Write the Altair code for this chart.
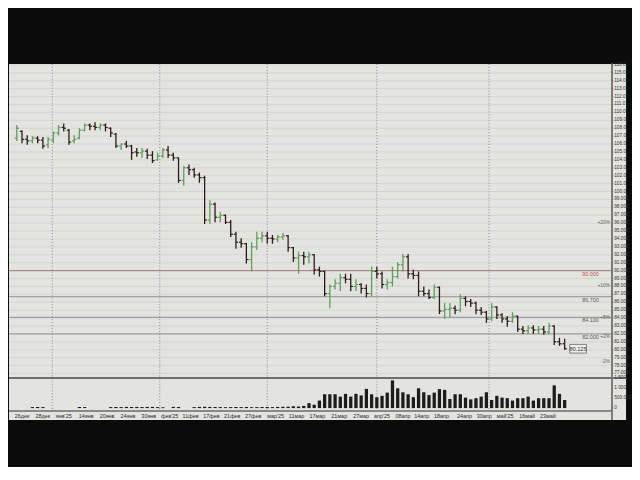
import altair as alt
import pandas as pd

# ---------------- data ----------------
opens = [
    106.75, 107.6, 106.6, 106.4, 106.75, 106.5, 105.9, 106.5, 107.4, 108.1,
    107.75, 106.4, 106.75, 107.75, 108.4, 108.25, 108.1, 108.4, 108.0, 107.25,
    105.75, 106.0, 105.75, 105.0, 104.9, 105.1, 104.6, 104.0, 104.5, 105.25,
    104.6, 104.25, 101.4, 103.0, 102.75, 102.1, 101.75, 96.4, 98.4, 96.75,
    97.0, 96.1, 94.6, 93.6, 93.4, 91.4, 93.0, 94.1, 94.4, 94.1,
    94.0, 94.25, 94.4, 92.9, 91.6, 91.9, 91.75, 92.0, 90.1, 89.9,
    87.1, 88.0, 88.4, 89.1, 88.9, 88.0, 88.25, 87.75, 87.1, 89.9,
    89.6, 88.25, 88.5, 89.25, 90.75, 91.75, 89.6, 89.4, 87.4, 87.1,
    86.6, 87.9, 84.9, 85.1, 85.25, 85.0, 86.5, 86.1, 85.9, 85.0,
    84.75, 83.9, 85.4, 84.4, 83.9, 83.6, 84.25, 82.6, 82.4, 82.75,
    82.5, 82.6, 82.25, 83.0, 81.0, 80.75,
]
highs = [
    108.4, 107.75, 107.1, 107.0, 107.0, 106.9, 106.9, 107.6, 108.4, 108.6,
    107.9, 107.1, 108.0, 108.6, 108.6, 108.75, 108.6, 108.6, 108.1, 107.4,
    106.1, 106.4, 105.9, 105.5, 105.5, 105.4, 105.1, 104.9, 105.5, 105.75,
    104.9, 104.3, 103.25, 103.4, 103.0, 102.4, 102.0, 98.9, 98.6, 97.4,
    97.1, 96.4, 94.9, 94.1, 93.5, 93.6, 94.9, 94.9, 94.9, 94.5,
    94.5, 94.75, 94.5, 93.0, 92.4, 92.4, 92.4, 92.1, 90.5, 90.0,
    88.25, 88.9, 89.6, 89.6, 89.6, 88.9, 88.4, 88.25, 90.5, 90.5,
    89.9, 88.9, 90.5, 91.1, 92.1, 92.1, 90.1, 89.9, 88.0, 87.6,
    88.25, 88.0, 85.9, 85.9, 85.6, 87.0, 86.75, 86.4, 86.1, 85.4,
    84.9, 85.9, 85.5, 84.6, 84.25, 84.75, 84.3, 83.0, 83.1, 83.1,
    83.0, 83.0, 83.4, 83.1, 81.5, 81.4,
]
lows = [
    106.4, 106.1, 105.9, 106.1, 106.1, 105.4, 105.5, 106.1, 107.1, 107.6,
    105.9, 106.1, 106.6, 107.6, 107.75, 107.75, 107.75, 107.6, 106.9, 105.5,
    105.25, 105.5, 104.0, 104.4, 104.25, 104.1, 103.6, 103.9, 104.25, 104.25,
    103.9, 101.1, 100.75, 102.1, 101.75, 101.1, 95.9, 95.9, 96.1, 96.1,
    95.9, 94.25, 92.75, 92.9, 90.9, 89.9, 92.6, 93.6, 93.4, 93.4,
    93.6, 93.9, 92.4, 91.1, 89.6, 90.75, 90.9, 89.5, 89.25, 86.75,
    85.25, 87.6, 87.4, 88.4, 87.4, 87.4, 87.1, 86.6, 86.75, 89.0,
    87.75, 87.6, 88.0, 89.0, 89.9, 89.0, 88.9, 86.75, 86.75, 86.4,
    86.4, 84.5, 83.9, 84.1, 84.5, 84.75, 85.5, 85.4, 84.5, 84.4,
    83.4, 83.6, 83.9, 83.4, 82.9, 83.4, 82.25, 82.0, 82.0, 82.0,
    82.0, 81.9, 82.0, 80.6, 80.5, 80.0,
]
closes = [
    108.0, 106.6, 106.4, 106.75, 106.5, 105.75, 106.6, 107.4, 108.1, 108.0,
    106.25, 106.6, 107.75, 108.4, 108.25, 108.1, 108.4, 108.1, 107.4, 105.75,
    106.0, 105.75, 104.9, 104.9, 105.1, 104.6, 103.9, 104.5, 105.25, 104.6,
    104.25, 101.4, 103.0, 102.75, 102.1, 101.75, 96.4, 98.4, 96.75, 97.0,
    96.1, 94.6, 93.6, 93.4, 91.4, 93.0, 94.1, 94.4, 94.1, 94.0,
    94.25, 94.4, 92.9, 91.6, 91.9, 91.75, 92.0, 90.1, 89.9, 87.1,
    88.0, 88.4, 89.1, 88.9, 88.0, 88.25, 87.75, 87.1, 89.9, 89.6,
    88.25, 88.5, 89.25, 90.75, 91.75, 89.6, 89.4, 87.4, 87.1, 86.6,
    87.9, 84.9, 85.1, 85.25, 85.0, 86.5, 86.1, 85.9, 85.0, 84.75,
    83.9, 85.4, 84.4, 83.9, 83.6, 84.25, 82.6, 82.4, 82.75, 82.5,
    82.6, 82.25, 83.0, 81.0, 80.75, 80.125,
]
volumes = [
    0, 0, 0, 50, 55, 50, 0, 0, 0, 0,
    0, 0, 55, 50, 0, 0, 0, 0, 50, 55,
    50, 60, 55, 60, 55, 60, 60, 50, 40, 0,
    60, 55, 0, 0, 50, 60, 65, 60, 55, 50,
    45, 50, 55, 50, 55, 45, 50, 55, 55, 50,
    60, 65, 70, 90, 80, 110, 250, 170, 380, 700,
    700, 700, 580, 720, 580, 720, 640, 970, 700, 550,
    620, 780, 1400, 1000, 800, 700, 550, 1000, 800, 660,
    780, 960, 920, 460, 700, 700, 530, 440, 500, 580,
    800, 410, 620, 530, 500, 380, 500, 500, 580, 380,
    500, 500, 500, 1150, 720, 410,
]

date_labels = ["26дек", "28дек", "янв'25", "14янв", "20янв", "24янв", "30янв",
               "фев'25", "11фев", "17фев", "21фев", "27фев", "мар'25", "11мар",
               "17мар", "21мар", "27мар", "апр'25", "08апр", "14апр", "18апр",
               "24апр", "30апр", "май'25", "16май", "23май"]
date_label_idx = [1.0, 5.0, 9.0, 13.3, 17.3, 21.3, 25.3, 29.3, 33.3, 37.3, 41.3,
                  45.3, 49.6, 53.6, 57.6, 61.8, 66.0, 70.0, 74.0, 77.6, 81.4,
                  85.8, 89.6, 93.6, 97.8, 101.8]
month_start_idx = [6.8, 27.4, 48, 69, 90.5]

level_prices = [90.0, 86.7, 84.1, 82.0]
level_text = ["90.000", "86.700", "84.100", "82.000"]

pct_labels = ["+20%", "+10%", "+5%", "+2%", "-2%"]
pct_prices = [96.15, 88.14, 84.13, 81.73, 78.52]

price_ticks = [77, 78, 79, 80, 81, 82, 83, 84, 85, 86, 87, 88, 89, 90, 91, 92, 93,
               94, 95, 96, 97, 98, 99, 100, 101, 102, 103, 104, 105, 106, 107, 108,
               109, 110, 111, 112, 113, 114, 115, 116]
vol_ticks = [0, 500, 1000, 1500]
vol_tick_text = ["0", "500.000", "1 000", "1 500"]
last_price = 80.125

# ---------------- tables ----------------
n = len(closes)
bars = pd.DataFrame({"i": list(range(n)), "o": opens, "h": highs, "l": lows,
                     "c": closes, "v": volumes})
red_level = pd.DataFrame({"p": level_prices[:1], "t": level_text[:1]})
gray_levels = pd.DataFrame({"p": level_prices[1:], "t": level_text[1:]})
months = pd.DataFrame({"m": month_start_idx})
grid = pd.DataFrame({"p": price_ticks})
pct = pd.DataFrame({"p": pct_prices, "t": pct_labels})
vticks = pd.DataFrame({"v": vol_ticks, "t": vol_tick_text})
last = pd.DataFrame({"p": [last_price], "t": ["80.125"]})
dates = pd.DataFrame({"i": date_label_idx, "t": date_labels})

W, H = 624, 360
AXIS_X = 610
FONT = "Liberation Sans"

xs = alt.Scale(domain=[-0.546, 115.82], nice=False, zero=False)
ps = alt.Scale(domain=[76.375, 116.125], range=[318, 0], nice=False, zero=False)
vs = alt.Scale(domain=[0, 1500], range=[348, 318], nice=False)

UP, DOWN = "#5f9f5c", "#2c1a1a"
up_cond = alt.condition("datum.c >= datum.o", alt.value(UP), alt.value(DOWN))

grid_l = alt.Chart(grid).mark_rule(color="#d0d0cb", strokeWidth=0.7).encode(
    y=alt.Y("p:Q", scale=ps, axis=None), x=alt.value(0), x2=alt.value(AXIS_X))
tick_l = alt.Chart(grid).mark_rule(color="#7a7a78", strokeWidth=0.7).encode(
    y=alt.Y("p:Q", scale=ps, axis=None), x=alt.value(AXIS_X), x2=alt.value(AXIS_X + 1.5))
ptick_txt = alt.Chart(grid).transform_calculate(
    t="datum.p >= 100 ? format(datum.p, '.1f') : format(datum.p, '.3f')").mark_text(
    fontSize=4.8, font=FONT, align="left", baseline="middle", color="#333333").encode(
    y=alt.Y("p:Q", scale=ps, axis=None), x=alt.value(AXIS_X + 2), text="t:N")

red_l = alt.Chart(red_level).mark_rule(strokeWidth=1, color="#a27a74").encode(
    y=alt.Y("p:Q", scale=ps, axis=None), x=alt.value(0), x2=alt.value(AXIS_X))
gray_l = alt.Chart(gray_levels).mark_rule(strokeWidth=1, color="#8e8e8b").encode(
    y=alt.Y("p:Q", scale=ps, axis=None), x=alt.value(0), x2=alt.value(AXIS_X))

month_l = alt.Chart(months).mark_rule(color="#8c8c8a", strokeDash=[1, 2], strokeWidth=1).encode(
    x=alt.X("m:Q", scale=xs, axis=None), y=alt.value(0), y2=alt.value(351))

hl = alt.Chart(bars).mark_rule(strokeWidth=1.3).encode(
    x=alt.X("i:Q", scale=xs, axis=None),
    y=alt.Y("l:Q", scale=ps, axis=None), y2="h:Q", color=up_cond)

op = alt.Chart(bars).transform_calculate(xo="datum.i - 0.42").mark_rule(strokeWidth=1.2).encode(
    x=alt.X("xo:Q", scale=xs, axis=None), x2="i:Q",
    y=alt.Y("o:Q", scale=ps, axis=None), color=up_cond)

cl = alt.Chart(bars).transform_calculate(xc="datum.i + 0.42").mark_rule(strokeWidth=1.2).encode(
    x=alt.X("i:Q", scale=xs, axis=None), x2="xc:Q",
    y=alt.Y("c:Q", scale=ps, axis=None), color=up_cond)

red_txt = alt.Chart(red_level).mark_text(fontSize=5.5, font=FONT, dy=3, baseline="middle",
                                         color="#c0504d").encode(
    y=alt.Y("p:Q", scale=ps, axis=None), x=alt.value(588), text="t:N")
gray_txt = alt.Chart(gray_levels).mark_text(fontSize=5.5, font=FONT, dy=3, baseline="middle",
                                            color="#5a5a5a").encode(
    y=alt.Y("p:Q", scale=ps, axis=None), x=alt.value(588), text="t:N")

pct_txt = alt.Chart(pct).mark_text(fontSize=5, font=FONT, align="right", baseline="middle",
                                   color="#666666").encode(
    y=alt.Y("p:Q", scale=ps, axis=None), x=alt.value(608), text="t:N")

box = alt.Chart(last).transform_calculate(
    p1="datum.p + 0.55", p2="datum.p - 0.55").mark_rect(
    fill="#ededeb", stroke="#555555", strokeWidth=0.7).encode(
    x=alt.value(567), x2=alt.value(584),
    y=alt.Y("p1:Q", scale=ps, axis=None), y2="p2:Q")
box_txt = alt.Chart(last).mark_text(fontSize=5.5, font=FONT, color="#333333",
                                    baseline="middle").encode(
    x=alt.value(575.5), y=alt.Y("p:Q", scale=ps, axis=None), text="t:N")

sep = alt.Chart(grid).mark_rule(color="#6e6e6c", strokeWidth=1).encode(
    y=alt.value(318), x=alt.value(0), x2=alt.value(W))
bottom_line = alt.Chart(grid).mark_rule(color="#8a8a88", strokeWidth=1).encode(
    y=alt.value(351), x=alt.value(0), x2=alt.value(AXIS_X))
vline = alt.Chart(grid).mark_rule(color="#7a7a78", strokeWidth=1).encode(
    x=alt.value(AXIS_X), y=alt.value(0), y2=alt.value(H))

date_txt = alt.Chart(dates).mark_text(fontSize=5.5, font=FONT, color="#2a2a2a",
                                      baseline="middle").encode(
    x=alt.X("i:Q", scale=xs, axis=None), y=alt.value(356), text="t:N")

price_layer = alt.layer(grid_l, red_l, gray_l, month_l, sep, bottom_line, vline, tick_l,
                        hl, op, cl, red_txt, gray_txt, pct_txt, box, box_txt,
                        ptick_txt, date_txt)

vol_bars = alt.Chart(bars).mark_bar(width=3.3, color="#1c1c1c").encode(
    x=alt.X("i:Q", scale=xs, axis=None),
    y=alt.Y("v:Q", scale=vs, axis=None))
vol_txt = alt.Chart(vticks).mark_text(fontSize=4.8, font=FONT, align="left",
                                      color="#333333", baseline="middle").encode(
    x=alt.value(AXIS_X + 2), y=alt.Y("v:Q", scale=vs, axis=None), text="t:N")
vol_layer = alt.layer(vol_bars, vol_txt)

chart = alt.layer(price_layer, vol_layer).resolve_scale(y="independent").properties(
    width=W, height=H,
    padding={"left": 0, "top": 52, "right": 0, "bottom": 44},
    background="#0b0b0b",
).configure_view(fill="#e3e3df", stroke=None)

chart.save("out.html", embed_options={"renderer": "svg", "actions": False})
